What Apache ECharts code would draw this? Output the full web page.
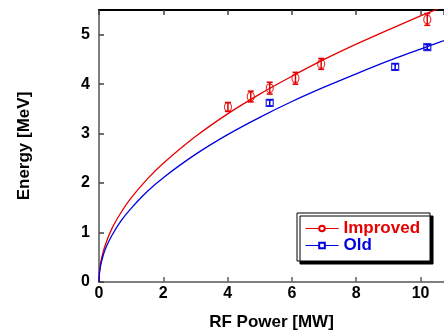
<!DOCTYPE html>
<html><head><meta charset="utf-8">
<script src="https://cdn.jsdelivr.net/npm/echarts@6/dist/echarts.min.js"></script>
<style>html,body{margin:0;padding:0;background:#fff}#c{width:444px;height:336px}</style>
</head><body><div id="c"></div>
<script>
// Measured points
const improvedX = [4.01, 4.72, 5.31, 6.11, 6.91, 10.21];
const improvedY = [3.54, 3.75, 3.92, 4.12, 4.41, 5.31];
const improvedErr = [0.09, 0.11, 0.12, 0.12, 0.11, 0.12];
const oldX = [5.31, 9.21, 10.21];
const oldY = [3.62, 4.35, 4.75];
const oldErr = [0.06, 0.06, 0.05];
// Fit curves
const fitX = [0, 0.02, 0.08, 0.2, 0.4, 0.7, 1, 1.5, 2, 3, 4, 5, 6, 7, 8, 9, 10, 10.73];
const improvedFitY = [0, 0.24, 0.48, 0.76, 1.08, 1.42, 1.7, 2.08, 2.4, 2.94, 3.4, 3.8, 4.16, 4.5, 4.81, 5.1, 5.38, 5.57];
const oldFitY = [0, 0.21, 0.42, 0.67, 0.94, 1.25, 1.49, 1.83, 2.11, 2.58, 2.98, 3.33, 3.65, 3.94, 4.21, 4.47, 4.71, 4.88];

const RED = '#e60000', BLUE = '#0000e0';
const FONT = '"Liberation Sans", Arial, sans-serif';
const zip = (a, b) => a.map((v, i) => [v, b[i]]);
const zip3 = (a, b, c) => a.map((v, i) => [v, b[i], c[i]]);

function errRender(color, cap) {
  return function (params, api) {
    const x = api.value(0), y = api.value(1), e = api.value(2);
    const lo = api.coord([x, y - e]), hi = api.coord([x, y + e]);
    const st = { stroke: color, lineWidth: 1.5 };
    return { type: 'group', children: [
      { type: 'line', shape: { x1: lo[0], y1: lo[1], x2: hi[0], y2: hi[1] }, style: st },
      { type: 'line', shape: { x1: lo[0] - cap, y1: lo[1], x2: lo[0] + cap, y2: lo[1] }, style: st },
      { type: 'line', shape: { x1: hi[0] - cap, y1: hi[1], x2: hi[0] + cap, y2: hi[1] }, style: st }
    ]};
  };
}

const chart = echarts.init(document.getElementById('c'), null, { renderer: 'canvas' });
chart.setOption({
  animation: false,
  backgroundColor: '#fff',
  grid: { left: 99, right: 0, top: 10, bottom: 49, containLabel: false },
  legend: {
    data: [
      { name: 'Improved', textStyle: { color: RED } },
      { name: 'Old', textStyle: { color: BLUE } }
    ],
    orient: 'vertical', left: 297, top: 213,
    padding: [7, 10, 7, 8], itemGap: 0, itemWidth: 33, itemHeight: 7,
    selectedMode: false,
    backgroundColor: '#fff', borderColor: '#000', borderWidth: 1,
    shadowColor: '#000', shadowOffsetX: 3, shadowOffsetY: 3, shadowBlur: 0,
    itemStyle: { borderWidth: 1 },
    lineStyle: { width: 1 },
    textStyle: { fontFamily: FONT, fontWeight: 'bold', fontSize: 17, lineHeight: 16 }
  },
  xAxis: [{
    type: 'value', position: 'bottom', min: 0, max: 10.73, interval: 2,
    name: 'RF Power [MW]', nameLocation: 'middle', nameGap: 32,
    nameTextStyle: { fontFamily: FONT, fontWeight: 'bold', fontSize: 17, color: '#000' },
    axisLine: { show: true, lineStyle: { color: '#808080', width: 2 } },
    axisTick: { show: true, inside: true, length: 5, lineStyle: { color: '#606060', width: 1.5 } },
    axisLabel: { fontFamily: FONT, fontWeight: 'bold', fontSize: 16, color: '#000', margin: 4, showMaxLabel: false },
    splitLine: { show: false }
  }, {
    type: 'value', position: 'top', min: 0, max: 10.73, interval: 2,
    axisLine: { show: true, lineStyle: { color: '#000', width: 2 } },
    axisTick: { show: true, inside: true, length: 5, lineStyle: { color: '#404040', width: 1.5 } },
    axisLabel: { show: false }, splitLine: { show: false }
  }],
  yAxis: {
    type: 'value', min: 0, max: 5.5, interval: 1,
    name: 'Energy [MeV]', nameLocation: 'middle', nameGap: 66, nameRotate: 90,
    nameTextStyle: { fontFamily: FONT, fontWeight: 'bold', fontSize: 17, color: '#000' },
    axisLine: { show: true, lineStyle: { color: '#808080', width: 2 } },
    axisTick: { show: true, inside: true, length: 5, lineStyle: { color: '#404040', width: 1.5 } },
    axisLabel: { fontFamily: FONT, fontWeight: 'bold', fontSize: 16, color: '#000', margin: 9, showMaxLabel: false },
    splitLine: { show: false }
  },
  series: [
    { name: 'Improved', type: 'line', data: zip(fitX, improvedFitY), smooth: 0.25,
      symbol: 'emptyCircle', symbolSize: 6, showSymbol: false, color: RED, lineStyle: { color: RED, width: 1.3 }, itemStyle: { color: RED } },
    { name: 'Old', type: 'line', data: zip(fitX, oldFitY), smooth: 0.25,
      symbol: 'emptyRect', symbolSize: 6, showSymbol: false, color: BLUE, lineStyle: { color: BLUE, width: 1.3 }, itemStyle: { color: BLUE } },
    { name: 'ImprovedErr', type: 'custom', data: zip3(improvedX, improvedY, improvedErr), renderItem: errRender(RED, 3), z: 3 },
    { name: 'OldErr', type: 'custom', data: zip3(oldX, oldY, oldErr), renderItem: errRender(BLUE, 3), z: 3 },
    { name: 'ImprovedPts', type: 'scatter', data: zip(improvedX, improvedY), symbol: 'circle', symbolSize: [7, 9],
      itemStyle: { color: 'rgba(0,0,0,0)', borderColor: RED, borderWidth: 1.3 }, z: 4 },
    { name: 'OldPts', type: 'scatter', data: zip(oldX, oldY), symbol: 'rect', symbolSize: [7, 7],
      itemStyle: { color: 'rgba(0,0,0,0)', borderColor: BLUE, borderWidth: 1.3 }, z: 4 }
  ]
});
</script>
</body></html>
